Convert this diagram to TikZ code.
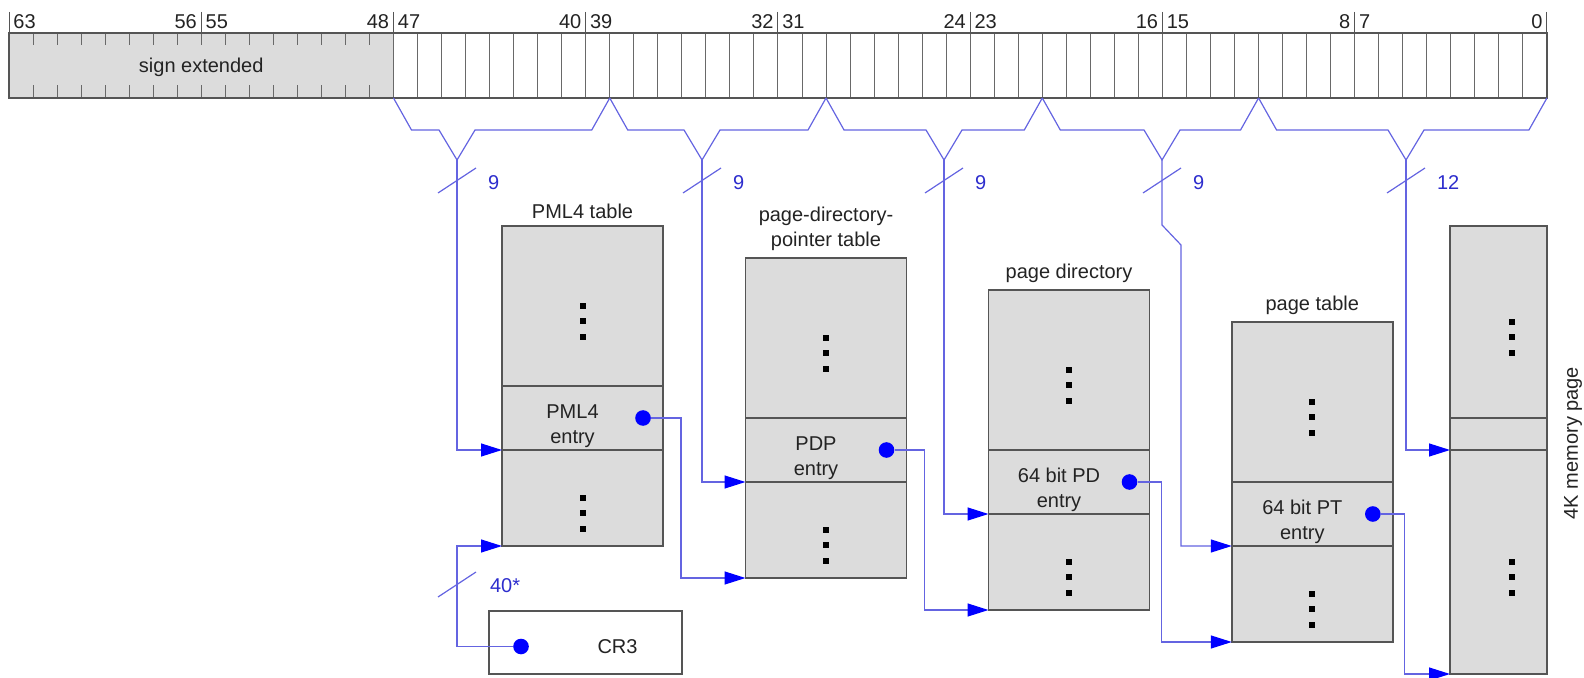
\documentclass[tikz,border=0pt]{standalone}
\usepackage{fontspec}
\setmainfont{Liberation Sans}
\usetikzlibrary{positioning, arrows.meta}

\definecolor{grigio}{RGB}{220,220,220}
\definecolor{bordo}{RGB}{85,85,85}
\definecolor{cellgrigio}{RGB}{105,105,105}
\definecolor{linea}{RGB}{100,100,225}
\definecolor{blu}{RGB}{0,0,255}
\definecolor{blutesto}{RGB}{45,45,205}
\definecolor{testo}{RGB}{35,35,35}

\tikzset{
  tabtop/.style={rectangle, draw=bordo, fill=grigio, line width=0.7pt, minimum width=80.5pt, minimum height=80pt, inner sep=0pt, outer sep=0pt},
  tabentry/.style={tabtop, minimum height=32pt},
  tabbot/.style={tabtop, minimum height=48pt},
  entrytext/.style={xshift=-5pt, yshift=-4pt, align=center},
  ptrdot/.style={circle, fill=blu, inner sep=0pt, minimum size=7.8pt},
  idx/.style={draw=linea, line width=0.6pt, -{Triangle[length=10.5pt, width=6.5pt, color=blu]}},
  brace/.style={draw=linea, line width=0.6pt},
  campo/.style={text=blutesto, anchor=west},
  cella/.style={draw=cellgrigio, line width=0.5pt}
}

% tre puntini verticali
\newcommand{\puntini}[2][0pt]{%
  \foreach \p in {0,7.65,15.3}
    \fill[black] ([xshift=#1,yshift=-\p pt]#2) ++(-3,-3) rectangle ++(6,6);
}

\begin{document}
\begin{tikzpicture}[x=0.5pt, y=-0.5pt, font=\fontsize{10}{12.5}\selectfont, text=testo]
  \useasboundingbox (0,0) rectangle (1584,678);
  \def\bw{24.03}

  % Registro a 64 bit
  \fill[grigio] (9,33) rectangle ({9+16*\bw},98);
  \foreach \k in {1,...,15} {
    \draw[cella] ({9+\k*\bw},33) -- ++(0,12);
    \draw[cella] ({9+\k*\bw},98) -- ++(0,-13);
  }
  \foreach \k in {16,...,63}
    \draw[cella] ({9+\k*\bw},33) -- ({9+\k*\bw},98);
  \draw[draw=bordo, line width=0.7pt] (9,33) rectangle ({9+64*\bw},98);
  \node (segno) at ({9+8*\bw},67) {sign extended};

  % Numeri dei bit
  \foreach \k in {0,...,8} {
    \pgfmathtruncatemacro{\sx}{64-8*\k}
    \pgfmathtruncatemacro{\dx}{63-8*\k}
    \draw[cella, draw=bordo] ({9+8*\k*\bw},12) -- ++(0,21);
    \ifnum\k>0 \node[anchor=east, inner sep=2pt] (bs\k) at ({9+8*\k*\bw},22) {\sx}; \fi
    \ifnum\k<8 \node[anchor=west, inner sep=2pt] (bd\k) at ({9+8*\k*\bw},22) {\dx}; \fi
  }

  % Graffe dei campi
  \foreach \kl/\kr/\xv/\nb [count=\i] in {16/25/457/9, 25/34/702/9, 34/43/944/9, 43/52/1162/9, 52/64/1406/12} {
    \draw[brace] ({9+\kl*\bw},98) -- ++(18,32) -- (\xv-18,130) -- (\xv,160) -- (\xv+18,130)
      -- ({9+\kr*\bw-18},130) -- ({9+\kr*\bw},98);
    \coordinate (v\i) at (\xv,160);
    \draw[brace] (\xv-19,193) -- (\xv+19,168);
    \node[campo] (nb\i) at (\xv+24,183) {\nb};
  }

  % Tabella PML4
  \node[tabtop] (pml4top) at (582.5,306) {};
  \node[tabentry, below=0pt of pml4top] (pml4e) {};
  \node[tabbot, below=0pt of pml4e] (pml4bot) {};
  \node[above=0pt of pml4top] (pml4tit) {PML4 table};
  \node[entrytext] (pml4txt) at (pml4e) {PML4\\entry};
  \puntini{pml4top.center} \puntini{pml4bot.center}

  % Tabella page-directory-pointer
  \node[tabtop] (pdptop) at (826,338) {};
  \node[tabentry, below=0pt of pdptop] (pdpe) {};
  \node[tabbot, below=0pt of pdpe] (pdpbot) {};
  \node[above=0pt of pdptop, align=center] (pdptit) {page-directory-\\pointer table};
  \node[entrytext] (pdptxt) at (pdpe) {PDP\\entry};
  \puntini{pdptop.center} \puntini{pdpbot.center}

  % Page directory
  \node[tabtop] (pdtop) at (1069,370) {};
  \node[tabentry, below=0pt of pdtop] (pde) {};
  \node[tabbot, below=0pt of pde] (pdbot) {};
  \node[above=0pt of pdtop] (pdtit) {page directory};
  \node[entrytext] (pdtxt) at (pde) {64 bit PD\\entry};
  \puntini{pdtop.center} \puntini{pdbot.center}

  % Page table
  \node[tabtop] (pttop) at (1312.3,402) {};
  \node[tabentry, below=0pt of pttop] (pte) {};
  \node[tabbot, below=0pt of pte] (ptbot) {};
  \node[above=0pt of pttop] (pttit) {page table};
  \node[entrytext] (pttxt) at (pte) {64 bit PT\\entry};
  \puntini{pttop.center} \puntini{ptbot.center}

  % Pagina di memoria 4K
  \node[tabtop, minimum width=48.5pt, minimum height=96pt] (memtop) at (1498.5,322) {};
  \node[tabtop, minimum width=48.5pt, minimum height=16pt, below=0pt of memtop] (meme) {};
  \node[tabtop, minimum width=48.5pt, minimum height=112pt, below=0pt of meme] (membot) {};
  \node[rotate=90] (memtit) at (1573,443) {4K memory page};
  \puntini[6.75pt]{memtop.center} \puntini[6.75pt]{membot.center}

  % CR3
  \node[tabtop, fill=white, minimum width=96.5pt, minimum height=31.5pt] (cr3) at (585.5,642.5) {};
  \node (cr3txt) at ([xshift=16pt, yshift=-2pt]cr3.center) {CR3};
  \draw[brace] (438,597) -- (476,572);
  \node[campo] (nb40) at (483,586) {40*};

  % Collegamenti
  \draw[idx] (v1) |- (pml4e.south west);
  \draw[idx] (v2) |- (pdpe.south west);
  \draw[idx] (v3) |- (pde.south west);
  \draw[idx] (v4) -- ++(0,65) -- ++(19,20) |- (pte.south west);
  \draw[idx] (v5) |- (meme.south west);

  \node[ptrdot] (cr3dot) at ([xshift=16pt, yshift=-2pt]cr3.west) {};
  \node[ptrdot] (pml4dot) at ([xshift=-10pt]pml4e.east) {};
  \node[ptrdot] (pdpdot) at ([xshift=-10pt]pdpe.east) {};
  \node[ptrdot] (pddot) at ([xshift=-10pt]pde.east) {};
  \node[ptrdot] (ptdot) at ([xshift=-10pt]pte.east) {};

  \draw[idx] (cr3dot) -- ++(-64,0) |- (pml4bot.south west);
  \draw[idx] (pml4dot) -- ++(38,0) |- (pdpbot.south west);
  \draw[idx] (pdpdot) -- ++(38,0) |- (pdbot.south west);
  \draw[idx] (pddot) -- ++(32,0) |- (ptbot.south west);
  \draw[idx] (ptdot) -- ++(32,0) |- (membot.south west);
\end{tikzpicture}
\end{document}
